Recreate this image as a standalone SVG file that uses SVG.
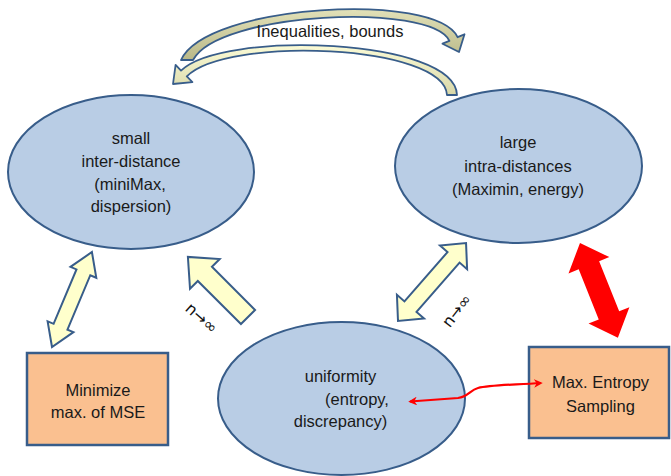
<svg xmlns="http://www.w3.org/2000/svg" width="671" height="476" viewBox="0 0 671 476">
<style>
.ell{fill:#b9cde5;stroke:#385d8a;stroke-width:2}
.box{fill:#fac090;stroke:#385d8a;stroke-width:2.5}
.t{font-family:"Liberation Sans",Arial,sans-serif;font-size:16.5px;fill:#1a1a1a;text-anchor:middle}
.lbl{font-family:"DejaVu Sans","Liberation Sans",sans-serif;font-size:16px;fill:#111;text-anchor:middle}
.ya{fill:#ffffcc;stroke:#385d8a;stroke-width:2;stroke-linejoin:miter}
</style>
<defs>
<linearGradient id="g1" x1="0" y1="0" x2="0" y2="1">
<stop offset="0" stop-color="#e2e1b8"/><stop offset="1" stop-color="#b9b888"/>
</linearGradient>
<linearGradient id="g2" x1="0" y1="0" x2="0" y2="1">
<stop offset="0" stop-color="#fbfbd6"/><stop offset="1" stop-color="#d8d7a8"/>
</linearGradient>
<marker id="rh" viewBox="0 0 10 10" refX="8" refY="5" markerWidth="4" markerHeight="4" orient="auto-start-reverse">
<path d="M0,0 L10,5 L0,10 L3,5 Z" fill="#ff0000"/>
</marker>
</defs>
<rect width="671" height="476" fill="#ffffff"/>

<g id="small-inter-distance">
<ellipse class="ell" cx="131" cy="172" rx="123" ry="77"/>
<text class="t" x="131" y="144">small</text>
<text class="t" x="131" y="167">inter-distance</text>
<text class="t" x="130" y="189.5">(miniMax,</text>
<text class="t" x="131" y="212">dispersion)</text>
</g>

<g id="large-intra-distances">
<ellipse class="ell" cx="518.5" cy="166" rx="123.5" ry="77"/>
<text class="t" x="518" y="148">large</text>
<text class="t" x="518" y="172">intra-distances</text>
<text class="t" x="518" y="195">(Maximin, energy)</text>
</g>

<g id="uniformity">
<ellipse class="ell" cx="341.5" cy="398.5" rx="123.5" ry="76.5"/>
<text class="t" x="340.5" y="382">uniformity</text>
<text class="t" x="357" y="405">(entropy,</text>
<text class="t" x="340.5" y="427">discrepancy)</text>
</g>

<g id="minimize-mse">
<rect class="box" x="27" y="353" width="141" height="92"/>
<text class="t" x="98" y="396">Minimize</text>
<text class="t" x="98" y="418">max. of MSE</text>
</g>

<g id="max-entropy">
<rect class="box" x="529" y="347" width="140" height="91"/>
<text class="t" x="600.5" y="388">Max. Entropy</text>
<text class="t" x="600.5" y="412">Sampling</text>
</g>

<g id="connectors">
<path d="M181,60 C206,4 436,-9 457.6,37.2 L464.5,34.3 L459,52 L442.5,43.7 L449.4,40.8 C430,2 218,12 193,60 Z" fill="url(#g1)" stroke="#385d8a" stroke-width="1.8" stroke-linejoin="round"/>
<path d="M457,95 C455,38 222,30 181,70.6 L175.6,64.9 L173,84 L192.4,82.1 L186.8,76.4 C226,36 444,44 447,95 Z" fill="url(#g2)" stroke="#385d8a" stroke-width="1.8" stroke-linejoin="round"/>
<text class="t" x="330" y="37">Inequalities, bounds</text>

<path class="ya" transform="translate(52,347) rotate(-67.2)" d="M0,0 L22,-14 L22,-7.5 L81,-7.5 L81,-14 L103,0 L81,14 L81,7.5 L22,7.5 L22,14 Z"/>
<path class="ya" transform="translate(248,317) rotate(-135)" d="M0,-10 L61,-10 L61,-21 L85,0 L61,21 L61,10 L0,10 Z"/>
<path class="ya" transform="translate(398,321) rotate(-48.9)" d="M0,0 L19,-18 L19,-8 L84.5,-8 L84.5,-18 L103.5,0 L84.5,18 L84.5,8 L19,8 L19,18 Z"/>
<path fill="#ff0000" transform="translate(580,243) rotate(68.2)" d="M0,0 L24,-22 L24,-11 L78,-11 L78,-22 L102,0 L78,22 L78,11 L24,11 L24,22 Z"/>

<text class="lbl" transform="translate(198,322) rotate(42)">n→∞</text>
<text class="lbl" transform="translate(461,314) rotate(-52)">n→∞</text>

<path d="M410,401.5 L458,398 C468,397 470,390 478,388 C490,385 510,385 541,383" fill="none" stroke="#ff0000" stroke-width="2.2" marker-start="url(#rh)" marker-end="url(#rh)"/>
</g>
</svg>
